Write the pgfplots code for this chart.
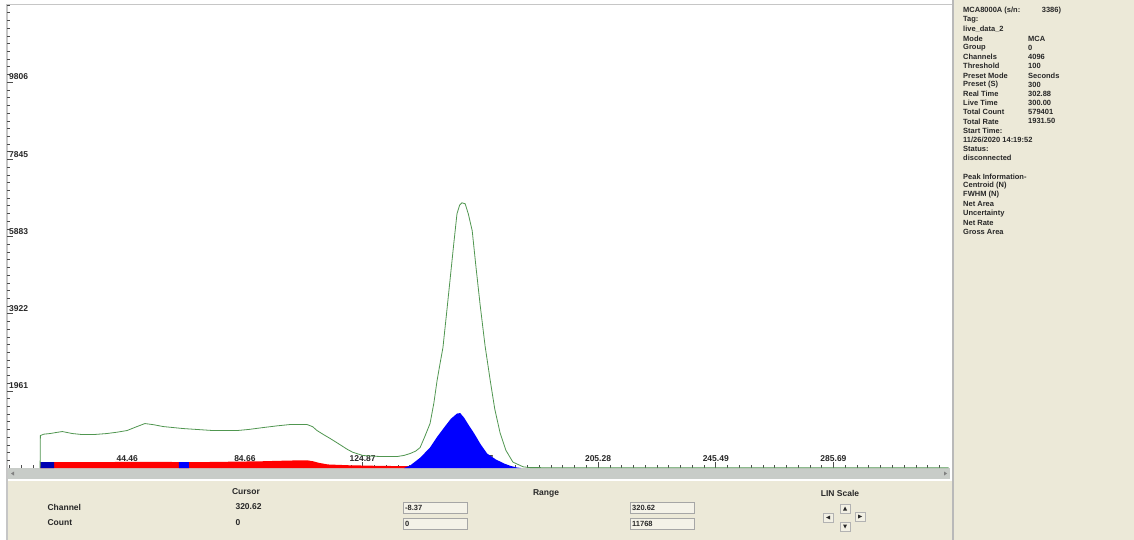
\documentclass[border=0pt]{standalone}
\usepackage{fontspec}
\setmainfont{Liberation Sans}
\usepackage{pgfplots}
\pgfplotsset{compat=1.18}
\definecolor{panel}{RGB}{236,233,216}
\definecolor{spec}{RGB}{80,150,80}
\definecolor{scroll}{RGB}{200,204,200}
\definecolor{txt}{RGB}{40,40,40}
\begin{document}
\begin{tikzpicture}[x=1pt,y=1pt,font=\fontsize{7.5}{8}\selectfont\bfseries]
\path[use as bounding box] (0,0) rectangle (1134,-540);
\fill[white] (0,0) rectangle (1134,-540);
\fill[panel] (952,0) rectangle (1134,-540);
\fill[panel] (7,-481) rectangle (952,-540);
\fill[scroll] (7,-468) rectangle (950,-479);
\draw[white,line width=1] (7,-480.5) -- (950,-480.5);
\draw[gray!55,line width=1.6] (953,0) -- (953,-540);
\draw[gray!45,line width=1.4] (7,-540) -- (7,-4.5) -- (952,-4.5);
\fill[gray] (11,-473.5) -- (14,-471.5) -- (14,-475.5) -- cycle;
\fill[gray] (947,-473.5) -- (944,-471.5) -- (944,-475.5) -- cycle;
\begin{axis}[at={(7pt,-5pt)}, anchor=north west, scale only axis,
  width=943pt, height=463pt,
  xmin=3.4, xmax=325.5, ymin=0, ymax=11768,
  scaled ticks=false,
  axis line style={draw=none},
  tick align=inside, xtick pos=bottom, ytick pos=left,
  major tick length=6pt, minor tick length=3pt,
  minor xtick={4.25,8.2705,...,325},
  minor ytick={196.1,392.2,...,11768},
  tick style={gray!60!black, line width=0.6pt},
  xtick={44.46,84.66,124.87,165.07,205.28,245.49,285.69},
  xticklabels={44.46,84.66,124.87,165.07,205.28,245.49,285.69},
  ytick={1961,3922,5883,7845,9806},
  yticklabels={1961,3922,5883,7845,9806},
  xticklabel style={anchor=south, yshift=3pt, text=txt, font=\fontsize{8.5}{9}\selectfont\bfseries},
  yticklabel style={anchor=south west, xshift=0pt, inner sep=2pt, text=txt, font=\fontsize{8.5}{9}\selectfont\bfseries},
  /pgf/number format/assume math mode=true,
]
% red region
\addplot[fill=red, draw=none] coordinates {
(14.8,0) (14.8,150) (30,150) (50,155) (70,150) (90,170) (100,190) (106,195)
(108,170) (110,130) (113,90) (120,70) (130,55) (141,45) (141.1,0)} \closedcycle;
% blue ROI markers
\addplot[fill=blue!70!black, draw=none] coordinates {(14.8,0) (14.8,150) (19.5,150) (19.5,0)} \closedcycle;
\addplot[fill=blue, draw=none] coordinates {(62.1,0) (62.1,152) (65.5,152) (65.5,0)} \closedcycle;
% blue peak
\addplot[fill=blue, draw=none] coordinates {
(139,0) (141.1,63) (144.5,260) (147.9,520) (150.3,790) (152.7,1028) (155.0,1250)
(157.1,1384) (158.2,1395) (159.5,1282) (161.2,1080) (163.0,876) (165.2,600)
(167.4,368) (170.3,220) (173.2,114) (175.5,50) (177.6,13) (179,0)} \closedcycle;
% total spectrum
\addplot[spec, line width=0.8pt] coordinates {
(14.7,0) (14.8,825) (16.0,860) (18.1,876) (20.0,900) (22.3,927) (25.7,876)
(29.1,850) (33.0,850) (37.5,876) (41.0,910) (44.4,952) (47.0,1030) (50.5,1130)
(53.5,1100) (56.7,1054) (63.5,1003) (73.8,952) (82.0,952) (86.0,980) (90.9,1028)
(95.5,1070) (100.1,1105) (105.9,1105) (107.8,1050) (109.3,952) (111.5,850)
(113.8,749) (117.0,600) (119.5,480) (121.5,400) (125.0,317) (130.0,295)
(136.7,292) (139.0,320) (141.1,368) (143.0,430) (144.5,520) (146.0,780)
(147.9,1130) (149.2,1650) (150.3,2222) (151.3,2650) (152.3,3059) (153.5,3900)
(154.7,4761) (156.0,5700) (157.1,6462) (158.0,6680) (158.8,6741) (159.9,6715)
(161.0,6450) (162.3,6030) (163.6,5100) (165.0,4150) (166.7,3100) (168.4,2250)
(170.0,1500) (171.8,900) (173.8,450) (176.2,150) (179.7,30) (182.0,10)
(200.0,5) (325.0,5)};
\end{axis}
% bottom panel
\begin{scope}[text=txt, font=\fontsize{8.5}{10}\selectfont\bfseries]
\node at (246,-492) {Cursor};
\node[anchor=west] at (44,-507) {Channel};
\node[anchor=west] at (44,-523) {Count};
\node[anchor=west] at (232,-507) {320.62};
\node[anchor=west] at (232,-523) {0};
\node at (546,-493) {Range};
\node at (840,-493) {LIN Scale};
\draw[gray!70,fill=panel!60!white] (403,-502) rectangle (467,-513);
\draw[gray!70,fill=panel!60!white] (403,-518) rectangle (467,-529);
\draw[gray!70,fill=panel!60!white] (630,-502) rectangle (694,-513);
\draw[gray!70,fill=panel!60!white] (630,-518) rectangle (694,-529);
\node[anchor=west,inner sep=1pt,font=\fontsize{7.5}{9}\selectfont\bfseries] at (404,-507.5) {-8.37};
\node[anchor=west,inner sep=1pt,font=\fontsize{7.5}{9}\selectfont\bfseries] at (404,-523.5) {0};
\node[anchor=west,inner sep=1pt,font=\fontsize{7.5}{9}\selectfont\bfseries] at (631,-507.5) {320.62};
\node[anchor=west,inner sep=1pt,font=\fontsize{7.5}{9}\selectfont\bfseries] at (631,-523.5) {11768};
\foreach \cx/\cy in {828/-517.5, 845/-508.5, 845/-526.5, 860/-516.5}{
  \draw[gray!60,fill=panel!70!white] (\cx-5,\cy-4.5) rectangle (\cx+5,\cy+4.5);
}
\fill[txt] (826,-517.5) -- (830,-515.5) -- (830,-519.5) -- cycle;
\fill[txt] (845,-506.5) -- (843,-510.5) -- (847,-510.5) -- cycle;
\fill[txt] (845,-528.5) -- (843,-524.5) -- (847,-524.5) -- cycle;
\fill[txt] (862,-516.5) -- (858,-514.5) -- (858,-518.5) -- cycle;
\end{scope}
% right info panel
\begin{scope}[text=txt]
\node[anchor=west,inner sep=0] at (963,-11) {MCA8000A (s/n: \qquad\enspace 3386)};
\node[anchor=west,inner sep=0] at (963,-20.2) {Tag:};
\node[anchor=west,inner sep=0] at (963,-29.4) {live\_data\_2};
\foreach \y/\a/\b in {-38.6/Mode/MCA, -47.8/Group/0, -57/Channels/4096, -66.2/Threshold/100,
  -75.4/Preset Mode/Seconds, -84.6/Preset (S)/300, -93.8/Real Time/302.88, -103/Live Time/300.00,
  -112.2/Total Count/579401, -121.4/Total Rate/1931.50}{
  \node[anchor=west,inner sep=0] at (963,\y) {\a};
  \node[anchor=west,inner sep=0] at (1028,\y) {\b};
}
\node[anchor=west,inner sep=0] at (963,-130.6) {Start Time:};
\node[anchor=west,inner sep=0] at (963,-139.8) {11/26/2020 14:19:52};
\node[anchor=west,inner sep=0] at (963,-149) {Status:};
\node[anchor=west,inner sep=0] at (963,-158.2) {disconnected};
\node[anchor=west,inner sep=0] at (963,-176.6) {Peak Information-};
\node[anchor=west,inner sep=0] at (963,-185.8) {Centroid (N)};
\node[anchor=west,inner sep=0] at (963,-195) {FWHM (N)};
\node[anchor=west,inner sep=0] at (963,-204.2) {Net Area};
\node[anchor=west,inner sep=0] at (963,-213.4) {Uncertainty};
\node[anchor=west,inner sep=0] at (963,-222.6) {Net Rate};
\node[anchor=west,inner sep=0] at (963,-231.8) {Gross Area};
\end{scope}
\end{tikzpicture}
\end{document}
